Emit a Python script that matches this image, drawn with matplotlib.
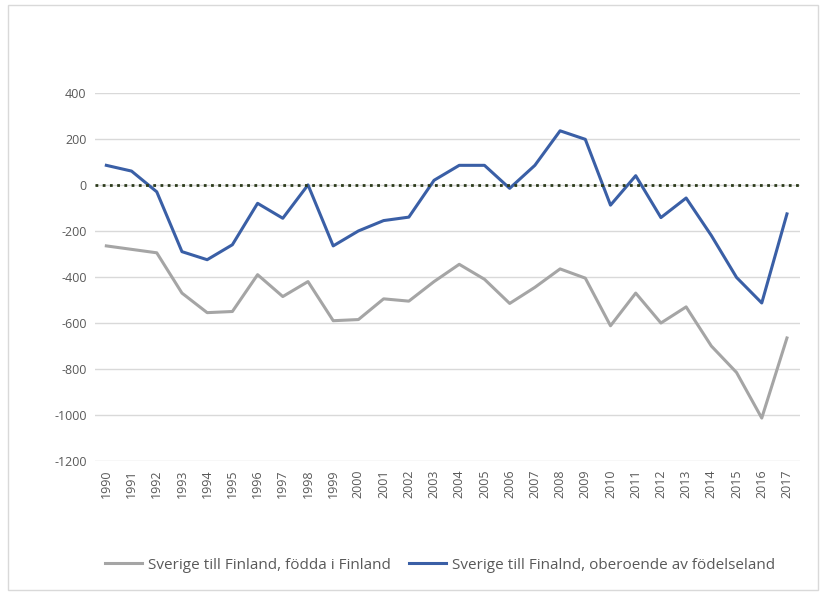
import matplotlib
matplotlib.use('Agg')
import matplotlib.pyplot as plt
from matplotlib.patches import Rectangle

# years on the x axis
years = [str(y) for y in range(1990, 2018)]

# Sverige till Finland, födda i Finland
fodda_i_finland = [-265, -280, -295, -470, -555, -550, -390, -485, -420, -590,
                   -585, -495, -505, -420, -345, -410, -515, -445, -365, -405,
                   -612, -470, -600, -530, -700, -815, -1013, -665]

# Sverige till Finalnd, oberoende av födelseland
oberoende = [85, 60, -30, -290, -325, -260, -80, -145, 0, -265,
             -200, -155, -140, 20, 85, 85, -15, 85, 235, 198,
             -88, 40, -142, -57, -220, -402, -513, -126]

plt.rcParams['font.family'] = ['Open Sans', 'DejaVu Sans']
plt.rcParams['axes.unicode_minus'] = False

fig = plt.figure(figsize=(8.26, 5.95), dpi=100)
ax = fig.add_axes([0.115, 0.225, 0.853, 0.619])

# light frame around the whole chart
fig.patches.append(Rectangle((0.010, 0.008), 0.980, 0.984, transform=fig.transFigure,
                             fill=False, edgecolor='#d9d9d9', linewidth=1))

x = list(range(len(years)))
ax.plot(x, fodda_i_finland, color='#a5a5a5', linewidth=2.2,
        label='Sverige till Finland, födda i Finland')
ax.plot(x, oberoende, color='#3a5fa6', linewidth=2.2,
        label='Sverige till Finalnd, oberoende av födelseland')
ax.plot([-0.45, 27.5], [0, 0], color='#2b3a1a', linewidth=2, linestyle=(0, (1, 1.6)))

ax.set_ylim(-1200, 400)
ax.set_yticks(range(-1200, 401, 200))
ax.set_xlim(-0.45, 27.5)
ax.set_xticks(x)
ax.set_xticklabels(years, rotation=90)

ax.grid(axis='y', color='#d9d9d9', linewidth=1)
ax.set_axisbelow(True)
for side in ['top', 'right', 'left', 'bottom']:
    ax.spines[side].set_visible(False)
ax.tick_params(axis='both', length=0, colors='#595959', labelsize=9, pad=6)

ax.legend(loc='upper center', bbox_to_anchor=(0.49, -0.225), ncol=2, frameon=False,
          fontsize=11, labelcolor='#595959', handlelength=2.4, handletextpad=0.4,
          columnspacing=1.2)

plt.savefig('out.png', dpi=100)
